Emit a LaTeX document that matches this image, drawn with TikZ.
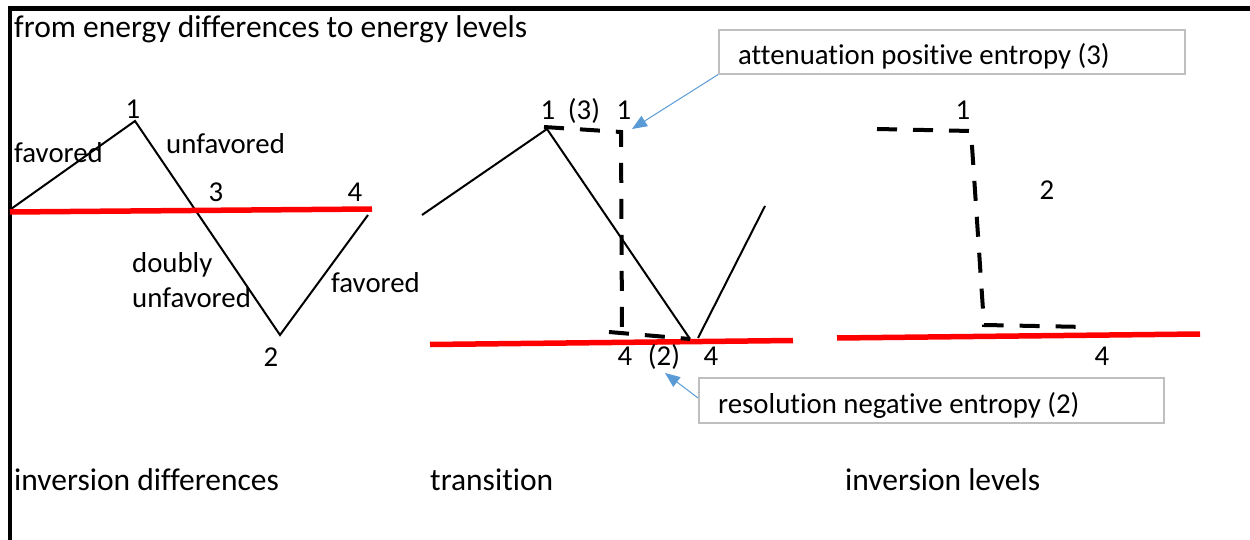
\documentclass[tikz,border=0pt]{standalone}
\usepackage{fontspec}
\setmainfont{Carlito}[RawFeature={-liga;-clig;-dlig}]
\usetikzlibrary{arrows.meta}
\definecolor{calloutblue}{HTML}{5B9BD5}
\definecolor{boxgray}{HTML}{BFBFBF}
\definecolor{levelred}{HTML}{FF0000}
\tikzset{
  lbl/.style={font=\fontsize{28.8}{34}\selectfont, inner sep=0pt, anchor=base west},
  biglbl/.style={font=\fontsize{31.5}{38}\selectfont, inner sep=0pt, anchor=base west},
  num/.style={font=\fontsize{28.8}{34}\selectfont, inner sep=0pt, anchor=base},
  curve/.style={draw=black, line width=2pt},
  level/.style={draw=levelred, line width=5.5pt},
  dashpath/.style={draw=black, line width=4pt, dash pattern=on 20pt off 16pt},
  callbox/.style={draw=boxgray, line width=1.6pt, inner sep=0pt, anchor=north west},
  callarrow/.style={draw=calloutblue, line width=1pt, -{Triangle[length=15pt,width=12pt]}}
}
\begin{document}
\begin{tikzpicture}[x=1pt,y=-1pt]
\useasboundingbox (0,0) rectangle (1250,540);
% frame
\draw[line width=4.5pt] (10,540) -- (10,8.5) -- (1250,8.5);
% title
\node[biglbl] (title) at (14,38) {from energy differences to energy levels};

% ---- panel 1
\coordinate (a0) at (11,209);
\coordinate (a1) at (135,121);
\coordinate (a2) at (280,335);
\coordinate (a3) at (368,215);
\draw[curve] (a0) -- (a1) -- (a2) -- (a3);
\coordinate (r1a) at (10,212);
\coordinate (r1b) at (372,209);
\draw[level] (r1a) -- (r1b);
\node[num] (p1n1) at (133,119) {1};
\node[lbl] (fav1) at (14,163) {favored};
\node[lbl] (unf1) at (166,154) {unfavored};
\node[num] (p1n3) at (216,202) {3};
\node[num] (p1n4) at (355,202) {4};
\node[lbl] (dbl) at (132,272) {doubly};
\node[lbl] (unf2) at (132,307) {unfavored};
\node[lbl] (fav2) at (331,292) {favored};
\node[num] (p1n2) at (271,366) {2};
\node[biglbl] (lab1) at (14,490) {inversion differences};

% ---- panel 2
\coordinate (b0) at (422,215);
\coordinate (b1) at (547,129);
\coordinate (b2) at (690,339);
\coordinate (b3) at (698,338);
\coordinate (b4) at (765,206);
\draw[curve] (b0) -- (b1) -- (b2);
\draw[curve] (b3) -- (b4);
\coordinate (r2a) at (430,344.5);
\coordinate (r2b) at (793,340.5);
\draw[level] (r2a) -- (r2b);
\coordinate (d0) at (544,127);
\coordinate (d1) at (621,132);
\coordinate (d2) at (622,331);
\coordinate (d3) at (690,339);
\draw[dashpath] (d0) -- (d1) -- (d2);
\coordinate (d4) at (609,332);
\draw[dashpath] (d4) -- (d3);
\node[num] (p2n1a) at (548,120) {1};
\node[num] (p2n3) at (584,120) {(3)};
\node[num] (p2n1b) at (624,120) {1};
\node[num] (p2n4a) at (625,365) {4};
\node[num] (p2n2) at (664,365) {(2)};
\node[num] (p2n4b) at (711,365) {4};
\node[biglbl] (lab2) at (430,490) {transition};

% callouts
\node[callbox, minimum width=466pt, minimum height=44pt] (att) at (718,29) {};
\node[lbl] (atttext) at (738,65) {attenuation positive entropy (3)};
\coordinate (atttip) at (632,129);
\draw[callarrow] (att.south west) -- (atttip);
\node[callbox, minimum width=465pt, minimum height=45pt] (res) at (698,377) {};
\node[lbl] (restext) at (718,413) {resolution negative entropy (2)};
\coordinate (restip) at (665,373);
\draw[callarrow] ([yshift=-21pt]res.north west) -- (restip);

% ---- panel 3
\coordinate (c0) at (877,129);
\coordinate (c1) at (971,131);
\coordinate (c2) at (984,325);
\coordinate (c3) at (1087,327);
\draw[dashpath] (c0) -- (c1) -- (c2) -- (c3);
\coordinate (r3a) at (837,338);
\coordinate (r3b) at (1200,334);
\draw[level] (r3a) -- (r3b);
\node[num] (p3n1) at (963,120) {1};
\node[num] (p3n2) at (1047,200) {2};
\node[num] (p3n4) at (1102,365) {4};
\node[biglbl] (lab3) at (845,490) {inversion levels};
\end{tikzpicture}
\end{document}
